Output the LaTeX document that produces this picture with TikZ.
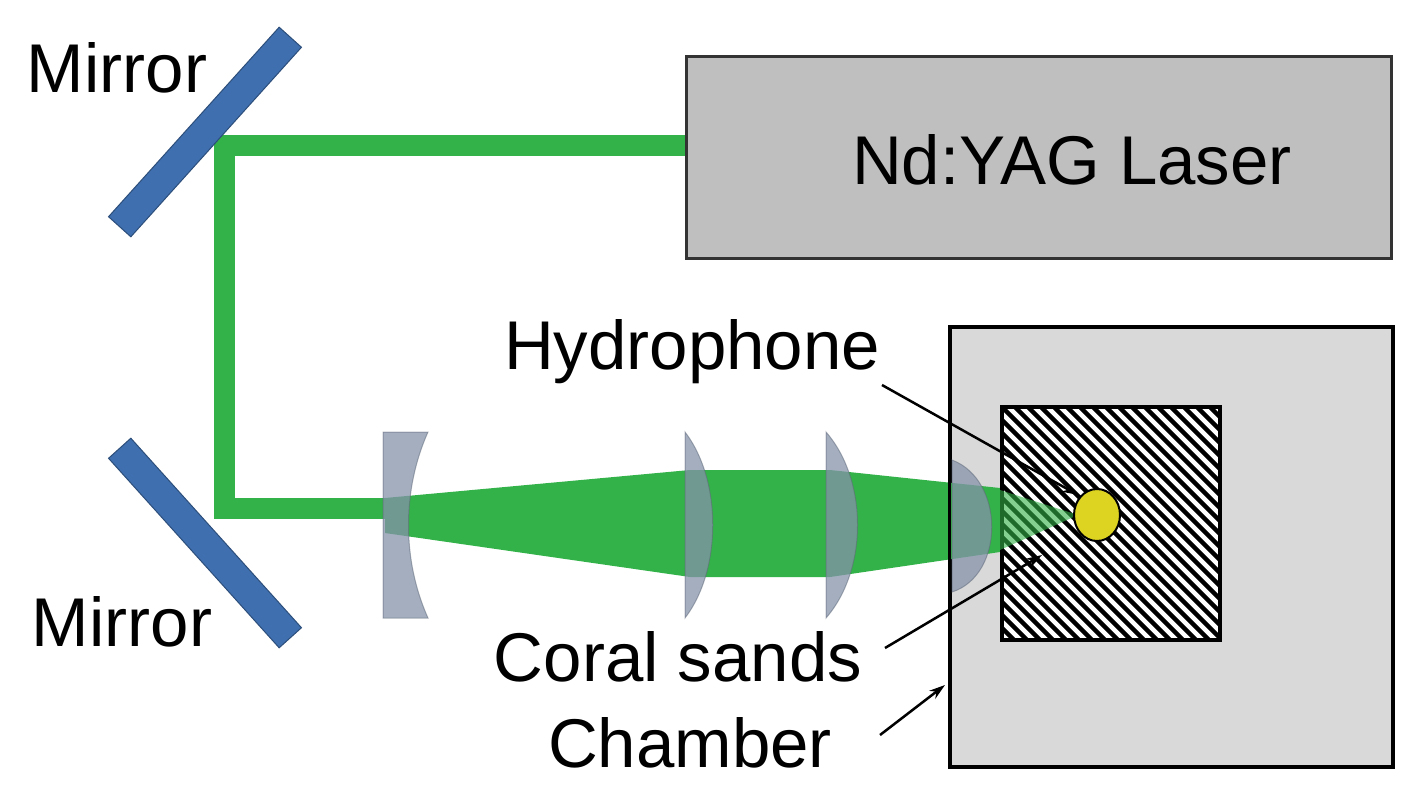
\documentclass[tikz,border=0pt]{standalone}
\usepackage{fontspec}
\setmainfont{Liberation Sans}
\usetikzlibrary{arrows.meta,shapes.geometric}
\definecolor{beam}{HTML}{33B249}
\definecolor{mir}{HTML}{3F6FAF}
\definecolor{lens}{HTML}{8593AA}
\tikzset{
  lbl/.style={font=\fontsize{69}{75}\selectfont, inner sep=0pt},
  mirror/.style={fill=mir, draw=mir!70!black, line width=1pt, minimum width=255pt, minimum height=30pt, inner sep=0pt},
  beamline/.style={draw=beam, line width=21pt},
  lensf/.style={fill=lens, fill opacity=0.75, draw=lens!70!black, draw opacity=0.5, line width=1pt},
  ptr/.style={draw=black, line width=2.5pt, -{Stealth[length=16pt,width=10pt]}}
}
\begin{document}
\begin{tikzpicture}[x=1pt,y=-1pt]
\useasboundingbox (0,0) rectangle (1426,808);
% laser
\node[draw=black!80, line width=3pt, fill=black!25, minimum width=705pt, minimum height=202pt, inner sep=0pt, anchor=north west] (laser) at (685,55) {};
\node[lbl] (lasert) at (1072,160) {Nd:YAG Laser};
% chamber
\node[draw=black, line width=3.5pt, fill=black!15, minimum width=443pt, minimum height=440pt, inner sep=0pt, anchor=north west] (chamber) at (948,325) {};
% beam path
\coordinate (b1) at (685,145);
\coordinate (b2) at (224,145);
\coordinate (b3) at (224,508);
\coordinate (b4) at (400,508);
\draw[beamline] (b1) -- (b2) -- (b3) -- (b4);
% cone
\fill[beam] (385,498) -- (690,470) -- (830,470) -- (1000,488) -- (1000,552) -- (830,577) -- (690,577) -- (385,533) -- cycle;
% mirrors
\node[mirror, rotate=48] (m1) at (205,132) {};
\node[mirror, rotate=-48] (m2) at (205,543) {};
% sample
\begin{scope}
\clip (1000,405) rectangle (1218,638);
\fill[white] (1000,405) rectangle (1218,638);
\foreach \i in {-260,-247,...,240}
  \draw[line width=4.5pt] (1000+\i,405) -- (1250+\i,655);
\end{scope}
\node[draw=black, line width=3.5pt, minimum width=218pt, minimum height=233pt, inner sep=0pt, anchor=north west] (sand) at (1000,405) {};
\fill[beam, opacity=0.6] (1000,490) -- (1078,515) -- (1000,550) -- cycle;
\node[ellipse, draw=black, line width=2pt, fill=yellow!85!black, minimum width=46pt, minimum height=52pt, inner sep=0pt] (hyd) at (1097,515) {};
% lenses
\path[lensf] (383,432) -- (428,432) .. controls (402,490) and (402,560) .. (428,618) -- (383,618) -- cycle;
\path[lensf] (685,432) .. controls (722,480) and (722,570) .. (685,618) -- cycle;
\path[lensf] (826,432) .. controls (868,480) and (868,570) .. (826,618) -- cycle;
\path[lensf] (952,460) .. controls (1005,480) and (1005,575) .. (952,592) -- cycle;
\draw[black, line width=3.5pt] (949.5,440) -- (949.5,610);
% labels
\node[lbl] (lm1) at (117,68) {Mirror};
\node[lbl] (lm2) at (122,622) {Mirror};
\node[lbl] (lh) at (692,352) {Hydrophone};
\node[lbl] (lc) at (678,657) {Coral sands};
\node[lbl] (lch) at (690,743) {Chamber};
\coordinate (ah) at (882,385);
\coordinate (ac) at (885,648);
\coordinate (ach) at (880,735);
\draw[ptr] (ah) -- (1078,495);
\draw[ptr] (ac) -- (1042,555);
\draw[ptr] (ach) -- (945,685);
\end{tikzpicture}
\end{document}
